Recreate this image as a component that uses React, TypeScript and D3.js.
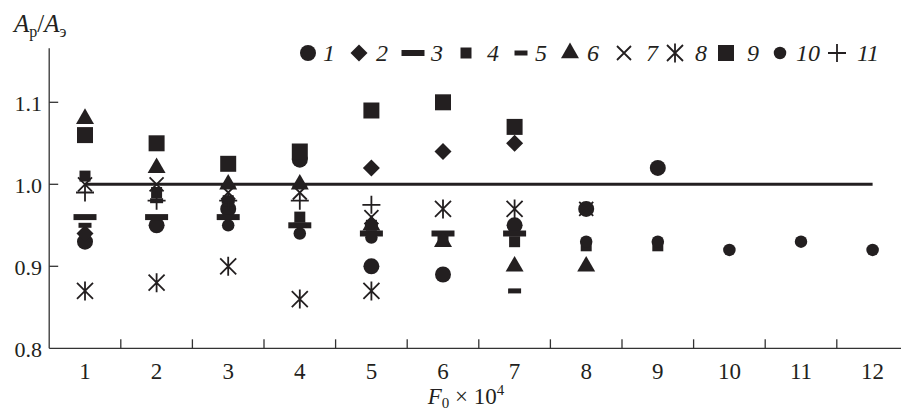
import React, { useEffect, useRef } from "react";
import { select, scaleLinear, symbol, symbolCircle, symbolTriangle } from "d3";

// F0 x 10^4 categories
const xCats = [1, 2, 3, 4, 5, 6, 7, 8, 9, 10, 11, 12];
const yTicks = [0.8, 0.9, 1.0, 1.1];

// Ap/Aэ per series, null = no point
const s1 = [0.93, 0.95, 0.97, 1.03, 0.9, 0.89, 0.95, 0.97, 1.02, null, null, null];
const s2 = [0.94, null, null, null, 1.02, 1.04, 1.05, null, null, null, null, null];
const s3 = [0.96, 0.96, 0.96, 0.95, 0.94, 0.94, 0.94, null, null, null, null, null];
const s4 = [1.01, 0.99, 0.98, 0.96, 0.95, 0.935, 0.93, 0.925, 0.925, null, null, null];
const s5 = [0.95, 0.98, 0.98, 0.95, 0.95, 0.94, 0.87, null, null, null, null, null];
const s6 = [1.08, 1.02, 1.0, 1.0, 0.95, 0.93, 0.9, 0.9, null, null, null, null];
const s7 = [1.0, 1.0, 0.99, 0.99, 0.96, null, null, 0.97, null, null, null, null];
const s8 = [0.87, 0.88, 0.9, 0.86, 0.87, 0.97, 0.97, null, null, null, null, null];
const s9 = [1.06, 1.05, 1.025, 1.04, 1.09, 1.1, 1.07, null, null, null, null, null];
const s10 = [null, null, 0.95, 0.94, 0.935, null, null, 0.93, 0.93, 0.92, 0.93, 0.92];
const s11 = [0.99, 0.98, 0.98, 0.98, 0.975, null, null, null, null, null, null, null];

const seriesNames = ["1", "2", "3", "4", "5", "6", "7", "8", "9", "10", "11"];
const seriesValues = [s1, s2, s3, s4, s5, s6, s7, s8, s9, s10, s11];
const refValue = 1.0;

const INK = "#231f20";

// marker path for each series
function markerPath(i: number): string {
  switch (i) {
    case 0:
      return symbol(symbolCircle, 201)() as string;
    case 1:
      return "M0,-8.5L8.5,0L0,8.5L-8.5,0Z";
    case 2:
      return "M-11.5,-3L11.5,-3L11.5,3L-11.5,3Z";
    case 3:
      return "M-5.5,-5.5L5.5,-5.5L5.5,5.5L-5.5,5.5Z";
    case 4:
      return "M-6.5,-2.5L6.5,-2.5L6.5,2.5L-6.5,2.5Z";
    case 5:
      return symbol(symbolTriangle, 140)() as string;
    case 6:
      return "M-7,-7L7,7M-7,7L7,-7";
    case 7:
      return "M0,-9.5L0,9.5M-8,-8L8,8M-8,8L8,-8";
    case 8:
      return "M-8,-8L8,-8L8,8L-8,8Z";
    case 9:
      return symbol(symbolCircle, 123)() as string;
    default:
      return "M-9,0L9,0M0,-9L0,9";
  }
}
const stroked = (i: number) => i === 6 || i === 7 || i === 10;

function App() {
  const svgRef = useRef<SVGSVGElement>(null);
  const width = 901,
    height = 410;

  useEffect(() => {
    const svg = select(svgRef.current);
    svg.selectAll("*").remove();

    const x = scaleLinear().domain([1, 12]).range([85, 872.6]);
    const y = scaleLinear().domain([0.8, 1.1]).range([348.3, 102.3]);
    const x0 = x(0.5),
      yTop = y(1.166);

    const g = svg.append("g");

    // axes
    g.append("line")
      .attr("x1", x0)
      .attr("x2", x0)
      .attr("y1", yTop)
      .attr("y2", y(0.8))
      .attr("stroke", "#333")
      .attr("stroke-width", 1.3);
    g.append("line")
      .attr("x1", x0)
      .attr("x2", width)
      .attr("y1", y(0.8))
      .attr("y2", y(0.8))
      .attr("stroke", "#333")
      .attr("stroke-width", 1.3);

    g.selectAll(".ytick")
      .data(yTicks.slice(1))
      .join("line")
      .attr("x1", x0)
      .attr("x2", x0 + 9)
      .attr("y1", (d) => y(d))
      .attr("y2", (d) => y(d))
      .attr("stroke", "#333")
      .attr("stroke-width", 1.3);
    g.selectAll(".ylab")
      .data(yTicks)
      .join("text")
      .attr("x", 42)
      .attr("y", (d) => y(d) + 9)
      .attr("text-anchor", "end")
      .attr("font-family", "Liberation Serif")
      .attr("font-size", 22)
      .attr("fill", INK)
      .text((d) => d.toFixed(1));

    g.selectAll(".xtick")
      .data(xCats.slice(0, 11))
      .join("line")
      .attr("x1", (d) => x(d + 0.5))
      .attr("x2", (d) => x(d + 0.5))
      .attr("y1", y(0.8))
      .attr("y2", y(0.8) - 9)
      .attr("stroke", "#333")
      .attr("stroke-width", 1.3);
    g.selectAll(".xlab")
      .data(xCats)
      .join("text")
      .attr("x", (d) => x(d))
      .attr("y", 379)
      .attr("text-anchor", "middle")
      .attr("font-family", "Liberation Serif")
      .attr("font-size", 23)
      .attr("fill", INK)
      .text((d) => d);

    // reference line at 1.0
    g.append("line")
      .attr("x1", x(1))
      .attr("x2", x(12))
      .attr("y1", y(refValue))
      .attr("y2", y(refValue))
      .attr("stroke", INK)
      .attr("stroke-width", 3);

    // points
    seriesValues.forEach((vals, i) => {
      const pts = vals
        .map((v, j) => ({ c: xCats[j], v }))
        .filter((d) => d.v !== null);
      g.selectAll(".s" + i)
        .data(pts)
        .join("path")
        .attr("transform", (d) => `translate(${x(d.c)},${y(d.v as number)})`)
        .attr("d", markerPath(i))
        .attr("fill", stroked(i) ? "none" : INK)
        .attr("stroke", stroked(i) ? INK : "none")
        .attr("stroke-width", 1.8);
    });

    // legend
    const legMarks = [308, 359, 413, 466, 521, 570, 624, 675, 726, 780, 837];
    const legTexts = [329, 382, 437, 493, 541, 593, 652, 701, 753, 808, 868];
    const leg = g.append("g");
    seriesNames.forEach((name, i) => {
      leg
        .append("path")
        .attr("transform", `translate(${legMarks[i]},53)`)
        .attr("d", markerPath(i))
        .attr("fill", stroked(i) ? "none" : INK)
        .attr("stroke", stroked(i) ? INK : "none")
        .attr("stroke-width", 1.8);
      leg
        .append("text")
        .attr("x", legTexts[i])
        .attr("y", 61)
        .attr("text-anchor", "middle")
        .attr("font-family", "Liberation Serif")
        .attr("font-style", "italic")
        .attr("font-size", 24)
        .attr("fill", INK)
        .text(name);
    });

    // y title  Ap/Aэ
    const yt = g
      .append("text")
      .attr("x", 14)
      .attr("y", 32)
      .attr("font-family", "Liberation Serif")
      .attr("font-size", 25)
      .attr("fill", INK);
    yt.append("tspan").attr("font-style", "italic").text("A");
    yt.append("tspan").attr("font-size", 16).attr("dy", 5).text("р");
    yt.append("tspan").attr("dy", -5).text("/");
    yt.append("tspan").attr("font-style", "italic").text("A");
    yt.append("tspan").attr("font-size", 16).attr("dy", 5).text("э");

    // x title  F0 × 10^4
    const xt = g
      .append("text")
      .attr("x", 466)
      .attr("y", 404)
      .attr("text-anchor", "middle")
      .attr("font-family", "Liberation Serif")
      .attr("font-size", 23)
      .attr("fill", INK);
    xt.append("tspan").attr("font-style", "italic").text("F");
    xt.append("tspan").attr("font-size", 15).attr("dy", 4).text("0");
    xt.append("tspan").attr("dy", -4).text(" × 10");
    xt.append("tspan").attr("font-size", 15).attr("dy", -9).text("4");
  }, []);

  return (
    <div>
      <svg
        ref={svgRef}
        width={width}
        height={height}
        style={{ position: "absolute", left: 0, top: 0, background: "#fff" }}
      ></svg>
    </div>
  );
}

export default App;
